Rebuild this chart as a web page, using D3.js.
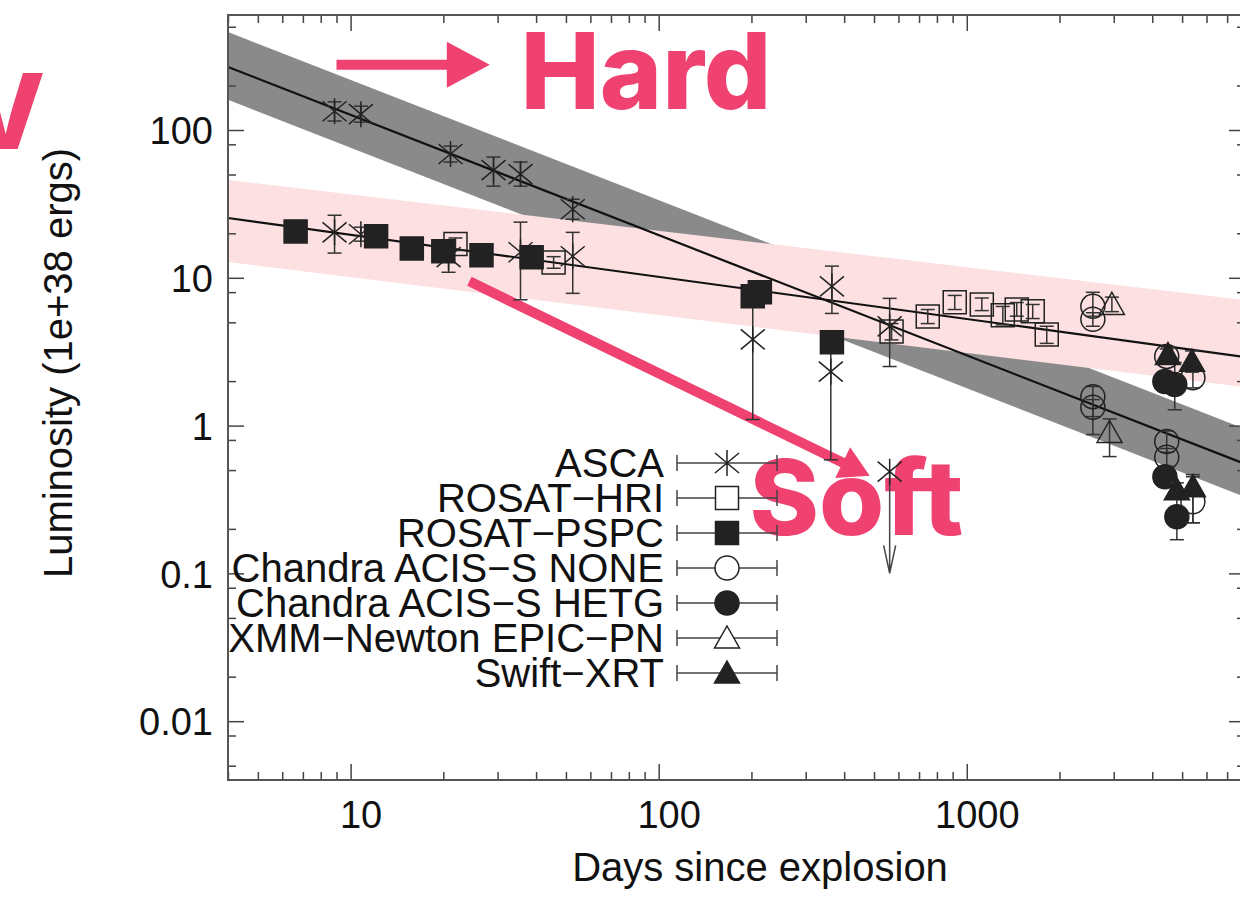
<!DOCTYPE html>
<html>
<head>
<meta charset="utf-8">
<script src="https://cdn.jsdelivr.net/npm/d3@7"></script>
<style>
  html, body { margin: 0; padding: 0; background: #fff; }
  svg { display: block; font-family: "Liberation Sans", Arial, Helvetica, sans-serif; }
</style>
</head>
<body>
<svg id="chart"></svg>
<script>

// ---- data (days since explosion, luminosity in 1e+38 ergs) ----
const ascaT  = [8.87, 10.8, 21.1, 29.1, 35.6, 52.6, 8.87, 10.8, 20.8, 35.6, 52.6, 202, 365, 362, 562]
const ascaL  = [134, 128, 68.8, 53.5, 50.3, 29.1, 20.3, 19.7, 13.8, 14.9, 14.0, 3.83, 8.75, 2.32, 4.69]
const ascaLo = [115, 113, 60.7, 41.7, 41.7, 24.9, 14.7, 17.7, 10.9, 7.1, 7.85, 1.10, 5.74, 0.587, 2.51]
const ascaHi = [155, 145, 77.8, 65.6, 60.7, 34.0, 26.5, 22.0, 15.6, 23.8, 20.3, 7.14, 12.0, 3.54, 7.26]

// ASCA upper limit
const ascaUlT = [562]
const ascaUlL = [0.488]
const ascaUlTo = [0.1]

const hriT  = [21.9, 45.6, 570, 747, 914, 1119, 1309, 1453, 1637, 1818]
const hriL  = [16.9, 12.7, 4.34, 5.48, 6.82, 6.61, 5.57, 6.11, 5.93, 4.14]
const hriLo = [15.3, 11.6, 3.8, 4.9, 6.1, 6.0, 4.8, 5.5, 5.3, 3.6]
const hriHi = [18.6, 13.9, 4.9, 6.1, 7.6, 7.3, 6.4, 6.8, 6.6, 4.7]

const psT  = [6.63, 12.1, 15.8, 20.0, 26.6, 38.7, 202, 213, 365]
const psL  = [20.6, 19.1, 15.8, 15.1, 14.2, 13.8, 7.5, 7.98, 3.66]
const psLo = [19.5, 18.0, 15.0, 14.3, 13.5, 13.1, 7.1, 7.6, 3.5]
const psHi = [21.7, 20.2, 16.6, 15.9, 14.9, 14.5, 7.9, 8.4, 3.8]

const noneT  = [2566, 2566, 4457, 5420, 2566, 2566, 4457, 4457, 5420]
const noneL  = [6.41, 5.24, 2.94, 2.11, 1.57, 1.33, 0.78, 0.61, 0.305]
const noneLo = [5.5, 4.7, 2.6, 1.8, 0.87, 1.15, 0.66, 0.53, 0.22]
const noneHi = [7.98, 5.8, 3.3, 2.4, 1.84, 1.5, 0.92, 0.70, 0.451]

const hetgT  = [4396, 4732, 4396, 4808]
const hetgL  = [1.99, 1.90, 0.451, 0.242]
const hetgLo = [1.8, 1.28, 0.41, 0.169]
const hetgHi = [2.2, 2.67, 0.50, 0.34]

const xmmT  = [2958, 2907]
const xmmL  = [6.61, 0.898]
const xmmLo = [5.9, 0.617]
const xmmHi = [7.4, 1.11]

const swiftT  = [4497, 5383, 4808, 5420]
const swiftL  = [3.03, 2.72, 0.368, 0.386]
const swiftLo = [2.7, 2.3, 0.33, 0.22]
const swiftHi = [3.4, 3.2, 0.41, 0.466]

// fitted power laws and their bands
const fitT = [4, 8000]
const hardFit = [267, 0.55]
const hardBandLo = [160, 0.329]
const hardBandHi = [460, 0.949]
const softFit = [25.4, 2.91]
const softBandLo = [12.8, 1.82]
const softBandHi = [45.9, 7.08]

// axes
const xTickValues = [10, 100, 1000]
const xTickLabels = ["10", "100", "1000"]
const yTickValues = [0.01, 0.1, 1, 10, 100]
const yTickLabels = ["0.01", "0.1", "1", "10", "100"]

const legendNames = ["ASCA", "ROSAT\u2212HRI", "ROSAT\u2212PSPC", "Chandra ACIS\u2212S NONE",
                     "Chandra ACIS\u2212S HETG", "XMM\u2212Newton EPIC\u2212PN", "Swift\u2212XRT"]
const legendShapes = ["asterisk", "square", "square", "circle", "circle", "triangle", "triangle"]
const legendFilled = [false, false, true, false, true, false, true]

// annotations (data coordinates)
const hardArrow = [[9.0, 276], [28.3, 276]]
const softArrow = [[24.3, 9.46], [484, 0.458]]
const hardLabel = [35.6, 139]
const softLabel = [197, 0.182]
const vLabel = [1.02, 74.4]

// ---- drawing ----
const svgw = 1240
const svgh = 898
const pink = '#ef4270'
const ink = '#222'

const svg = d3.select('#chart')
    .attr('width', svgw)
    .attr('height', svgh)

const xScale = d3.scaleLog().domain([4, 8000]).range([228, 1245])
const yScale = d3.scaleLog().domain([0.004, 600]).range([780, 15])
const x0 = 228, x1 = 1245, y0 = 780, y1 = 15

const zip = (t, a, b) => t.map((d, i) => ({ t: d, lo: a[i], hi: b[i] }))

// bands: hard (grey) first, soft (pink) on top
const band = d3.area()
    .x(d => xScale(d.t))
    .y0(d => yScale(d.lo))
    .y1(d => yScale(d.hi))

svg.append('path')
    .datum(zip(fitT, hardBandLo, hardBandHi))
    .attr('d', band)
    .attr('fill', '#8a8a8a')

svg.append('path')
    .datum(zip(fitT, softBandLo, softBandHi))
    .attr('d', band)
    .attr('fill', '#fde0e1')

const fitLine = d3.line()
    .x((d, i) => xScale(fitT[i]))
    .y(d => yScale(d))

svg.append('path').datum(hardFit).attr('d', fitLine)
    .attr('fill', 'none').attr('stroke', '#111').attr('stroke-width', 2.2)
svg.append('path').datum(softFit).attr('d', fitLine)
    .attr('fill', 'none').attr('stroke', '#111').attr('stroke-width', 2.2)

// ticks
const minorX = []
for (let e = 0; e <= 3; e++) for (let k = 2; k <= 9; k++) {
    const v = k * Math.pow(10, e)
    if (v >= 4 && v <= 8000) minorX.push(v)
}
const minorY = []
for (let e = -3; e <= 2; e++) for (const k of [2, 5, 8]) {
    const v = k * Math.pow(10, e)
    if (v >= 0.004 && v <= 600) minorY.push(v)
}

const tickStyle = (g) => {
    g.select('.domain').remove()
    g.selectAll('line').attr('stroke', '#444').attr('stroke-width', 1.5)
}

svg.append('g').attr('transform', `translate(0,${y0})`)
    .call(d3.axisBottom(xScale).tickValues(minorX).tickSize(-8).tickFormat(''))
    .call(tickStyle)
svg.append('g').attr('transform', `translate(0,${y1})`)
    .call(d3.axisTop(xScale).tickValues(minorX).tickSize(-8).tickFormat(''))
    .call(tickStyle)
svg.append('g').attr('transform', `translate(0,${y1})`)
    .call(d3.axisTop(xScale).tickValues(xTickValues).tickSize(-16).tickFormat(''))
    .call(tickStyle)

const xAxis = svg.append('g').attr('transform', `translate(0,${y0})`)
    .call(d3.axisBottom(xScale).tickValues(xTickValues).tickSize(-16)
        .tickFormat((d, i) => xTickLabels[i]))
    .call(tickStyle)
xAxis.selectAll('text')
    .attr('y', 48).attr('dy', 0).attr('dx', 10)
    .attr('font-size', 38).attr('fill', '#111')
    .attr('font-family', '"Liberation Sans", Arial, sans-serif')

svg.append('g').attr('transform', `translate(${x0},0)`)
    .call(d3.axisLeft(yScale).tickValues(minorY).tickSize(-8).tickFormat(''))
    .call(tickStyle)
svg.append('g').attr('transform', `translate(${x1},0)`)
    .call(d3.axisRight(yScale).tickValues(minorY).tickSize(-8).tickFormat(''))
    .call(tickStyle)
svg.append('g').attr('transform', `translate(${x1},0)`)
    .call(d3.axisRight(yScale).tickValues(yTickValues).tickSize(-16).tickFormat(''))
    .call(tickStyle)

const yAxis = svg.append('g').attr('transform', `translate(${x0},0)`)
    .call(d3.axisLeft(yScale).tickValues(yTickValues).tickSize(-16)
        .tickFormat((d, i) => yTickLabels[i]))
    .call(tickStyle)
yAxis.selectAll('text')
    .attr('x', -15).attr('dy', '0.36em')
    .attr('font-size', 38).attr('fill', '#111')
    .attr('font-family', '"Liberation Sans", Arial, sans-serif')

// frame
svg.append('rect')
    .attr('x', x0).attr('y', y1)
    .attr('width', x1 - x0).attr('height', y0 - y1)
    .attr('fill', 'none').attr('stroke', '#555').attr('stroke-width', 2)

// axis titles
svg.append('text')
    .attr('x', 760).attr('y', 881)
    .attr('text-anchor', 'middle')
    .attr('font-size', 40).attr('fill', '#111')
    .text('Days since explosion')

svg.append('text')
    .attr('transform', 'translate(72,363) rotate(-90)')
    .attr('text-anchor', 'middle')
    .attr('font-size', 40).attr('fill', '#111')
    .text('Luminosity (1e+38 ergs)')

// annotations
const annot = svg.append('g')
const pt = (d) => [xScale(d[0]), yScale(d[1])]

function arrow(a, b, lw, headLen, headHalf) {
    const [ax, ay] = pt(a), [bx, by] = pt(b)
    const len = Math.hypot(bx - ax, by - ay)
    const ux = (bx - ax) / len, uy = (by - ay) / len
    const cx = bx - ux * headLen, cy = by - uy * headLen
    annot.append('line')
        .attr('x1', ax).attr('y1', ay).attr('x2', cx + ux * 2).attr('y2', cy + uy * 2)
        .attr('stroke', pink).attr('stroke-width', lw)
    annot.append('path')
        .attr('d', `M${bx},${by}L${cx - uy * headHalf},${cy + ux * headHalf}L${cx + uy * headHalf},${cy - ux * headHalf}Z`)
        .attr('fill', pink)
}
arrow(hardArrow[0], hardArrow[1], 10, 43, 23)
arrow(softArrow[0], softArrow[1], 10, 30, 17)

const bigFont = 'Inter, "Noto Sans", "Liberation Sans", sans-serif'
annot.append('text')
    .attr('x', pt(hardLabel)[0]).attr('y', pt(hardLabel)[1])
    .attr('font-family', bigFont).attr('font-weight', 800)
    .attr('font-size', 106).attr('fill', pink)
    .attr('textLength', 251).attr('lengthAdjust', 'spacingAndGlyphs')
    .text('Hard')
annot.append('text')
    .attr('x', pt(softLabel)[0]).attr('y', pt(softLabel)[1])
    .attr('font-family', bigFont).attr('font-weight', 800)
    .attr('font-size', 104).attr('fill', pink)
    .attr('textLength', 214).attr('lengthAdjust', 'spacingAndGlyphs')
    .text('Soft')
annot.append('text')
    .attr('x', pt(vLabel)[0]).attr('y', pt(vLabel)[1])
    .attr('text-anchor', 'end')
    .attr('font-family', bigFont).attr('font-weight', 800)
    .attr('font-size', 104).attr('fill', pink)
    .text('V')

// markers
function shapePath(shape) {
    if (shape === 'asterisk') return 'M0,-13V13M-12,-10L12,10M-12,10L12,-10'
    if (shape === 'square') return 'M-11.5,-11.5H11.5V11.5H-11.5Z'
    if (shape === 'circle') return 'M12,0A12,12 0 1,1 -12,0A12,12 0 1,1 12,0Z'
    return 'M0,-12L12.5,10L-12.5,10Z'
}

const dataLayer = svg.append('g')

function series(t, L, lo, hi, shape, filled) {
    const pts = t.map((d, i) => ({ t: d, L: L[i], lo: lo[i], hi: hi[i] }))
    const g = dataLayer.append('g')
    const eb = g.selectAll('.eb').data(pts).join('g').attr('class', 'eb')
        .attr('stroke', '#333').attr('stroke-width', 1.5).attr('fill', 'none')
    eb.append('line')
        .attr('x1', d => xScale(d.t)).attr('x2', d => xScale(d.t))
        .attr('y1', d => yScale(d.lo)).attr('y2', d => yScale(d.hi))
    eb.append('line')
        .attr('x1', d => xScale(d.t) - 7).attr('x2', d => xScale(d.t) + 7)
        .attr('y1', d => yScale(d.lo)).attr('y2', d => yScale(d.lo))
    eb.append('line')
        .attr('x1', d => xScale(d.t) - 7).attr('x2', d => xScale(d.t) + 7)
        .attr('y1', d => yScale(d.hi)).attr('y2', d => yScale(d.hi))
    g.selectAll('.mk').data(pts).join('path').attr('class', 'mk')
        .attr('transform', d => `translate(${xScale(d.t)},${yScale(d.L)})`)
        .attr('d', shapePath(shape))
        .attr('fill', filled ? ink : 'none')
        .attr('stroke', ink).attr('stroke-width', 1.5)
}

series(hriT, hriL, hriLo, hriHi, 'square', false)
series(noneT, noneL, noneLo, noneHi, 'circle', false)
series(xmmT, xmmL, xmmLo, xmmHi, 'triangle', false)
series(ascaT, ascaL, ascaLo, ascaHi, 'asterisk', false)
series(psT, psL, psLo, psHi, 'square', true)
series(hetgT, hetgL, hetgLo, hetgHi, 'circle', true)
series(swiftT, swiftL, swiftLo, swiftHi, 'triangle', true)

// ASCA upper limit with a downward arrow
ascaUlT.forEach((t, i) => {
    const x = xScale(t), yTop = yScale(ascaUlL[i]), yBot = yScale(ascaUlTo[i])
    dataLayer.append('path')
        .attr('d', `M${x},${yTop}V${yBot}M${x - 6},${yBot - 28}L${x},${yBot}L${x + 6},${yBot - 28}`)
        .attr('fill', 'none').attr('stroke', '#444').attr('stroke-width', 1.5)
    dataLayer.append('path')
        .attr('transform', `translate(${x},${yTop})`)
        .attr('d', shapePath('asterisk'))
        .attr('fill', 'none').attr('stroke', ink).attr('stroke-width', 1.5)
})

// legend
const legend = svg.append('g')
legendNames.forEach((name, i) => {
    const cy = 463 + i * 35
    legend.append('text')
        .attr('x', 664).attr('y', cy).attr('dy', '0.36em')
        .attr('text-anchor', 'end')
        .attr('font-size', 40).attr('fill', '#111')
        .text(name)
    legend.append('path')
        .attr('d', `M677,${cy}H777M677,${cy - 8}V${cy + 8}M777,${cy - 8}V${cy + 8}`)
        .attr('fill', 'none').attr('stroke', '#444').attr('stroke-width', 1.5)
    legend.append('path')
        .attr('transform', `translate(727,${cy})`)
        .attr('d', shapePath(legendShapes[i]))
        .attr('fill', legendFilled[i] ? ink : '#fff')
        .attr('stroke', ink).attr('stroke-width', 1.5)
})

</script>
</body>
</html>
